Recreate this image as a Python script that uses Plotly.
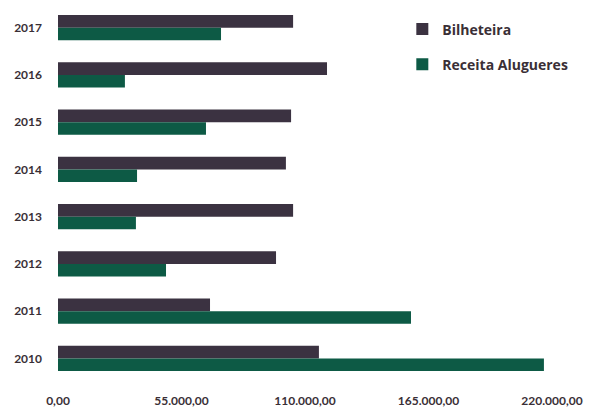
import plotly.graph_objects as go

years = ["2017", "2016", "2015", "2014", "2013", "2012", "2011", "2010"]
bilheteira = [104700, 119800, 103800, 101500, 104700, 97100, 67700, 116200]
receita_alugueres = [72600, 29800, 65900, 35200, 34700, 48100, 157200, 216400]
x_ticks = [0, 55000, 110000, 165000, 220000]
x_tick_labels = ["0,00", "55.000,00", "110.000,00", "165.000,00", "220.000,00"]

c_bil = "#3b3241"
c_rec = "#0d5a45"
txt = "#3a2f36"

fig = go.Figure()
fig.add_trace(go.Bar(y=years, x=bilheteira, orientation="h", name="Bilheteira",
                     marker=dict(color=c_bil, line=dict(width=0)), legendgroup="a"))
fig.add_trace(go.Bar(y=years, x=receita_alugueres, orientation="h", name="Receita Alugueres",
                     marker=dict(color=c_rec, line=dict(width=0)), legendgroup="b"))

fig.update_layout(
    width=614, height=409,
    margin=dict(l=58, r=62, t=4, b=27),
    paper_bgcolor="white", plot_bgcolor="white",
    barmode="group", bargap=0.47, bargroupgap=0,
    font=dict(family="Lato", color=txt),
    showlegend=True,
    legend=dict(x=0.697, y=0.975, xanchor="left", yanchor="top",
                font=dict(size=14, color=txt, family="Open Sans", weight="bold"),
                tracegroupgap=14, bgcolor="rgba(0,0,0,0)"),
    xaxis=dict(range=[0, 220000], tickvals=x_ticks, ticktext=x_tick_labels,
               showgrid=False, zeroline=False, showline=False, automargin=False,
               ticks="", ticklabelstandoff=10,
               tickfont=dict(size=12, weight="bold", color=txt)),
    yaxis=dict(type="category", categoryorder="array", categoryarray=years,
               autorange="reversed", showgrid=False, zeroline=False, showline=False,
               automargin=False, ticks="", ticklabelstandoff=15,
               tickfont=dict(size=12, weight="bold", color=txt)),
)

fig.write_html("out.html", config={"displayModeBar": False},
               post_script="document.body.style.margin='0';")
